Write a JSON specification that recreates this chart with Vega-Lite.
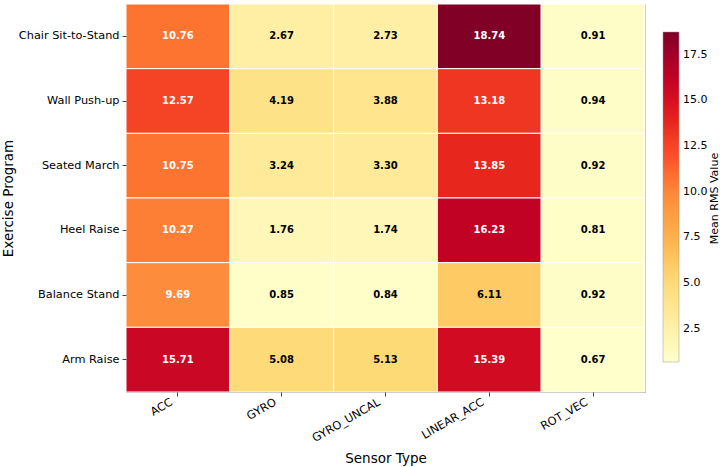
{
  "$schema": "https://vega.github.io/schema/vega-lite/v6.json",
  "autosize": "none",
  "width": 519,
  "height": 388,
  "padding": {"left": 126, "top": 4, "right": 75, "bottom": 75},
  "background": "white",
  "config": {
    "font": "DejaVu Sans",
    "view": {"stroke": "#999999", "strokeWidth": 1},
    "axis": {"labelFont": "DejaVu Sans", "titleFont": "DejaVu Sans", "labelColor": "#000", "titleColor": "#000", "tickColor": "#444", "domain": false, "grid": false, "titleFontWeight": "normal", "labelFontSize": 11.3, "titleFontSize": 13.5}
  },
  "data": {"values": [
    {"exercise": "Chair Sit-to-Stand", "sensor": "ACC", "value": 10.76},
    {"exercise": "Chair Sit-to-Stand", "sensor": "GYRO", "value": 2.67},
    {"exercise": "Chair Sit-to-Stand", "sensor": "GYRO_UNCAL", "value": 2.73},
    {"exercise": "Chair Sit-to-Stand", "sensor": "LINEAR_ACC", "value": 18.74},
    {"exercise": "Chair Sit-to-Stand", "sensor": "ROT_VEC", "value": 0.91},
    {"exercise": "Wall Push-up", "sensor": "ACC", "value": 12.57},
    {"exercise": "Wall Push-up", "sensor": "GYRO", "value": 4.19},
    {"exercise": "Wall Push-up", "sensor": "GYRO_UNCAL", "value": 3.88},
    {"exercise": "Wall Push-up", "sensor": "LINEAR_ACC", "value": 13.18},
    {"exercise": "Wall Push-up", "sensor": "ROT_VEC", "value": 0.94},
    {"exercise": "Seated March", "sensor": "ACC", "value": 10.75},
    {"exercise": "Seated March", "sensor": "GYRO", "value": 3.24},
    {"exercise": "Seated March", "sensor": "GYRO_UNCAL", "value": 3.30},
    {"exercise": "Seated March", "sensor": "LINEAR_ACC", "value": 13.85},
    {"exercise": "Seated March", "sensor": "ROT_VEC", "value": 0.92},
    {"exercise": "Heel Raise", "sensor": "ACC", "value": 10.27},
    {"exercise": "Heel Raise", "sensor": "GYRO", "value": 1.76},
    {"exercise": "Heel Raise", "sensor": "GYRO_UNCAL", "value": 1.74},
    {"exercise": "Heel Raise", "sensor": "LINEAR_ACC", "value": 16.23},
    {"exercise": "Heel Raise", "sensor": "ROT_VEC", "value": 0.81},
    {"exercise": "Balance Stand", "sensor": "ACC", "value": 9.69},
    {"exercise": "Balance Stand", "sensor": "GYRO", "value": 0.85},
    {"exercise": "Balance Stand", "sensor": "GYRO_UNCAL", "value": 0.84},
    {"exercise": "Balance Stand", "sensor": "LINEAR_ACC", "value": 6.11},
    {"exercise": "Balance Stand", "sensor": "ROT_VEC", "value": 0.92},
    {"exercise": "Arm Raise", "sensor": "ACC", "value": 15.71},
    {"exercise": "Arm Raise", "sensor": "GYRO", "value": 5.08},
    {"exercise": "Arm Raise", "sensor": "GYRO_UNCAL", "value": 5.13},
    {"exercise": "Arm Raise", "sensor": "LINEAR_ACC", "value": 15.39},
    {"exercise": "Arm Raise", "sensor": "ROT_VEC", "value": 0.67}
  ]},
  "encoding": {
    "x": {"field": "sensor", "type": "nominal", "sort": ["ACC", "GYRO", "GYRO_UNCAL", "LINEAR_ACC", "ROT_VEC"], "title": "Sensor Type",
      "axis": {"labelAngle": -30, "labelAlign": "right", "labelBaseline": "top", "tickSize": 4, "labelPadding": 0, "labelOffset": -9, "titlePadding": 8}}
  },
  "layer": [
    {
      "mark": {"type": "rect", "stroke": "white", "strokeWidth": 1},
      "encoding": {
        "y": {"field": "exercise", "type": "nominal", "sort": ["Chair Sit-to-Stand", "Wall Push-up", "Seated March", "Heel Raise", "Balance Stand", "Arm Raise"], "title": "Exercise Program",
          "axis": {"orient": "left", "tickSize": 4, "labelPadding": 3, "titlePadding": 3}},
        "color": {"field": "value", "type": "quantitative", "title": null,
          "scale": {"domain": [0.67, 2.92875, 5.1875, 7.44625, 9.705, 11.96375, 14.2225, 16.48125, 18.74],
                    "range": ["#ffffcc", "#ffeda0", "#fed976", "#feb24c", "#fd8d3c", "#fc4e2a", "#e31a1c", "#bd0026", "#800026"]},
          "legend": {"orient": "none", "legendX": 537, "legendY": 28, "gradientLength": 330, "gradientThickness": 16, "direction": "vertical",
            "values": [2.5, 5, 7.5, 10, 12.5, 15, 17.5], "format": ".1f", "labelFontSize": 11, "labelFont": "DejaVu Sans", "labelColor": "#000",
            "gradientStrokeColor": "#999", "gradientStrokeWidth": 0.5, "labelOffset": 4}}
      }
    },
    {
      "mark": {"type": "text", "fontWeight": "bold", "fontSize": 10, "font": "DejaVu Sans"},
      "encoding": {
        "y": {"field": "exercise", "type": "nominal", "sort": ["Chair Sit-to-Stand", "Wall Push-up", "Seated March", "Heel Raise", "Balance Stand", "Arm Raise"], "title": "Mean RMS Value",
          "axis": {"orient": "right", "labels": false, "ticks": false, "offset": 74, "titlePadding": 0, "titleAngle": 270, "titleFontSize": 11, "titleBaseline": "bottom"}},
        "text": {"field": "value", "type": "quantitative", "format": ".2f"},
        "color": {"condition": {"test": "datum.value > 9", "value": "white"}, "value": "black"}
      }
    }
  ],
  "resolve": {"axis": {"y": "independent"}}
}
